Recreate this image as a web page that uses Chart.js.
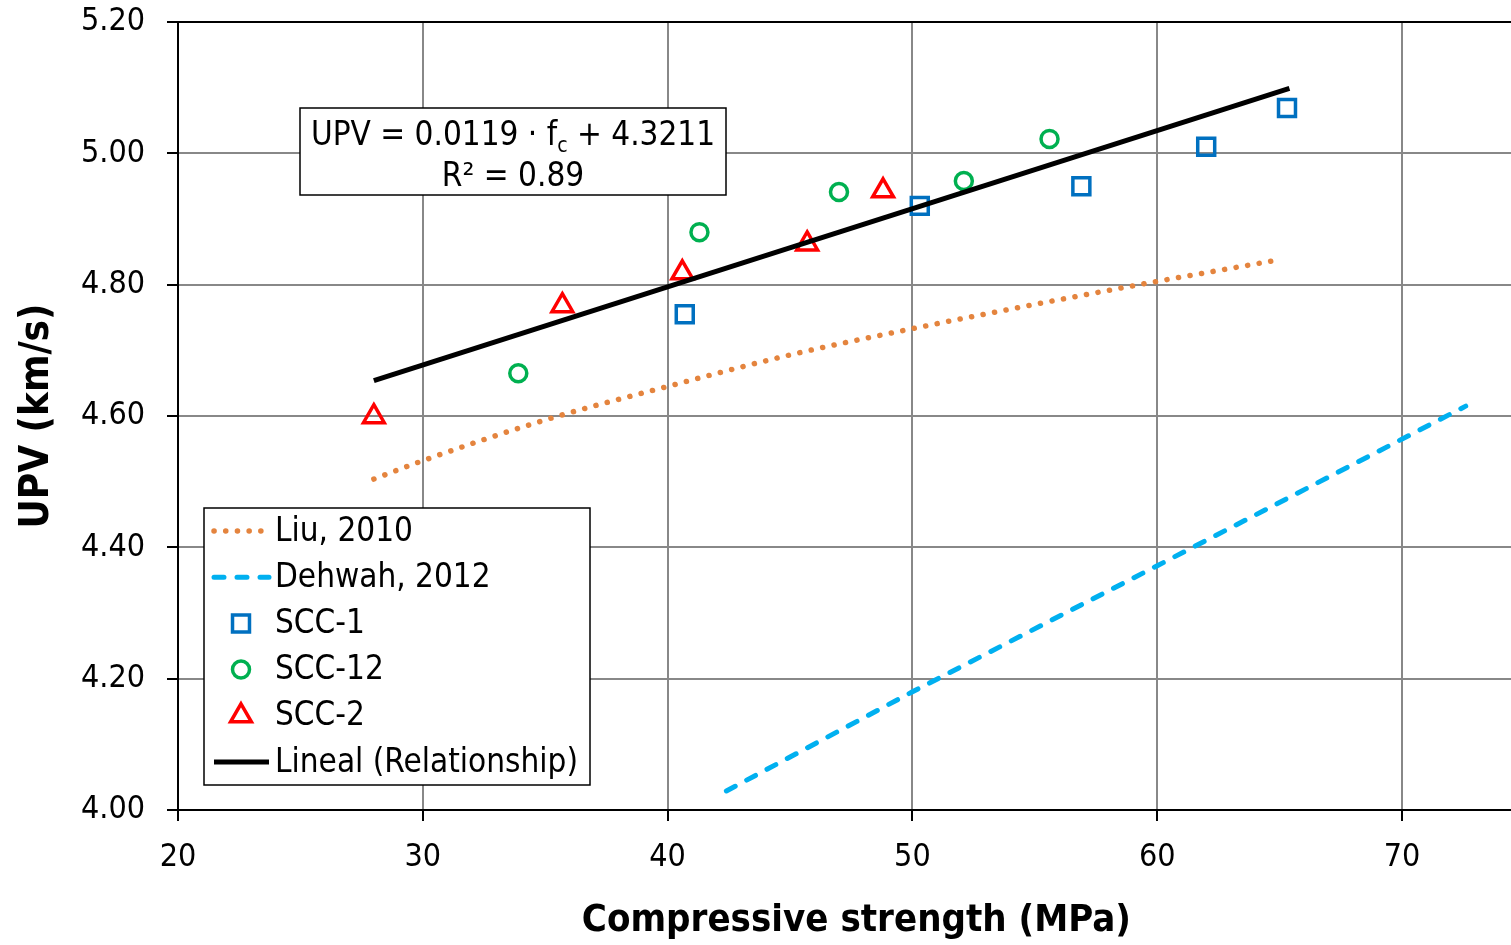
<!DOCTYPE html>
<html>
<head>
<meta charset="utf-8">
<script src="https://cdn.jsdelivr.net/npm/chart.js@4"></script>
<style>
html, body { margin: 0; padding: 0; background: #fff; overflow: hidden; }
canvas { display: block; }
</style>
</head>
<body>
<canvas id="upv_chart" width="1511" height="945"></canvas>
<script>
// tick labels
var xTicks = [20, 30, 40, 50, 60, 70];
var yTicks = [4.00, 4.20, 4.40, 4.60, 4.80, 5.00, 5.20];

// measured points
var scc1X = [40.7, 50.3, 56.9, 62.0, 65.3];
var scc1Y = [4.755, 4.920, 4.950, 5.010, 5.069];
var scc12X = [33.9, 41.3, 47.0, 52.1, 55.6];
var scc12Y = [4.665, 4.880, 4.941, 4.958, 5.022];
var scc2X = [28.0, 35.7, 40.6, 45.7, 48.8];
var scc2Y = [4.599, 4.768, 4.818, 4.862, 4.943];

// literature curves
var liuX = [28, 30, 35, 40, 45, 50, 55, 60, 65];
var liuY = [4.504, 4.532, 4.594, 4.645, 4.693, 4.733, 4.770, 4.805, 4.838];
var dehwahX = [42.4, 50, 60, 72.6];
var dehwahY = [4.029, 4.180, 4.372, 4.615];

// linear fit
var fitX = [28, 65.4];
var fitY = [4.654, 5.099];

function pts(xs, ys) {
  return xs.map(function (x, i) { return { x: x, y: ys[i] }; });
}

var FONT = "'DejaVu Sans Condensed', 'DejaVu Sans', sans-serif";
Chart.defaults.font.family = FONT;
Chart.defaults.color = '#000';

function drawMarker(c, style, r, x, y) {
  c.beginPath();
  if (style === 'rect') {
    var s = Math.SQRT1_2 * r;
    c.rect(x - s, y - s, 2 * s, 2 * s);
  } else if (style === 'circle') {
    c.arc(x, y, r, 0, Math.PI * 2);
  } else if (style === 'triangle') {
    var a = 0;
    c.moveTo(x + Math.sin(a) * r, y - Math.cos(a) * r);
    a += Math.PI * 2 / 3;
    c.lineTo(x + Math.sin(a) * r, y - Math.cos(a) * r);
    a += Math.PI * 2 / 3;
    c.lineTo(x + Math.sin(a) * r, y - Math.cos(a) * r);
    c.closePath();
  }
  c.stroke();
}

// legend box inside the plot
var boxLegend = {
  id: 'boxLegend',
  afterDraw: function (chart) {
    var c = chart.ctx;
    var x0 = 204, y0 = 508, w = 386, h = 277;
    c.save();
    c.fillStyle = '#fff';
    c.fillRect(x0, y0, w, h);
    c.strokeStyle = '#000';
    c.lineWidth = 1.5;
    c.strokeRect(x0, y0, w, h);
    c.font = '33px ' + FONT;
    c.textBaseline = 'middle';
    c.textAlign = 'left';
    chart.data.datasets.forEach(function (ds, i) {
      var yc = y0 + 23 + i * 46.2;
      c.strokeStyle = ds.borderColor;
      c.lineWidth = ds.borderWidth;
      if (ds.showLine) {
        c.setLineDash(ds.borderDash || []);
        c.lineCap = ds.borderCapStyle || 'butt';
        c.beginPath();
        c.moveTo(214, yc);
        c.lineTo(269, yc);
        c.stroke();
        c.setLineDash([]);
        c.lineCap = 'butt';
      } else {
        drawMarker(c, ds.pointStyle, ds.pointRadius, 241, yc);
      }
      c.fillStyle = '#000';
      c.fillText(ds.label, 275, yc + 1);
    });
    c.restore();
  }
};

// equation label
var eqBox = {
  id: 'eqBox',
  afterDraw: function (chart) {
    var c = chart.ctx;
    var x0 = 300, y0 = 108, w = 426, h = 87;
    c.save();
    c.fillStyle = '#fff';
    c.fillRect(x0, y0, w, h);
    c.strokeStyle = '#000';
    c.lineWidth = 1.5;
    c.strokeRect(x0, y0, w, h);
    c.fillStyle = '#000';
    c.textBaseline = 'alphabetic';
    c.textAlign = 'left';
    var big = '33px ' + FONT, small = '21px ' + FONT;
    var p1 = 'UPV = 0.0119 \u00b7 f', p2 = 'c', p3 = ' + 4.3211';
    c.font = big;
    var w1 = c.measureText(p1).width, w3 = c.measureText(p3).width;
    c.font = small;
    var w2 = c.measureText(p2).width;
    var cx = x0 + w / 2;
    var sx = cx - (w1 + w2 + w3) / 2;
    var base1 = 145;
    c.font = big;
    c.fillText(p1, sx, base1);
    c.font = small;
    c.fillText(p2, sx + w1, base1 + 7);
    c.font = big;
    c.fillText(p3, sx + w1 + w2, base1);
    c.textAlign = 'center';
    c.fillText('R\u00b2 = 0.89', cx, 186);
    c.restore();
  }
};

var ctx = document.getElementById('upv_chart').getContext('2d');
var chart = new Chart(ctx, {
  type: 'scatter',
  data: {
    datasets: [{
      label: 'Liu, 2010',
      data: pts(liuX, liuY),
      showLine: true,
      borderColor: '#E4843E',
      borderWidth: 5.5,
      borderDash: [0.1, 11.6],
      borderCapStyle: 'round',
      cubicInterpolationMode: 'monotone',
      pointRadius: 0,
    }, {
      label: 'Dehwah, 2012',
      data: pts(dehwahX, dehwahY),
      showLine: true,
      borderColor: '#00B0F0',
      borderWidth: 5,
      borderDash: [10, 13],
      borderCapStyle: 'round',
      pointRadius: 0,
    }, {
      label: 'SCC-1',
      data: pts(scc1X, scc1Y),
      pointStyle: 'rect',
      pointRadius: 12,
      borderColor: '#0070C0',
      backgroundColor: 'rgba(0,0,0,0)',
      borderWidth: 3.5,
    }, {
      label: 'SCC-12',
      data: pts(scc12X, scc12Y),
      pointStyle: 'circle',
      pointRadius: 8.5,
      borderColor: '#00B050',
      backgroundColor: 'rgba(0,0,0,0)',
      borderWidth: 3.5,
    }, {
      label: 'SCC-2',
      data: pts(scc2X, scc2Y),
      pointStyle: 'triangle',
      pointRadius: 12,
      borderColor: '#FF0000',
      backgroundColor: 'rgba(0,0,0,0)',
      borderWidth: 3.5,
    }, {
      label: 'Lineal (Relationship)',
      data: pts(fitX, fitY),
      showLine: true,
      borderColor: '#000',
      borderWidth: 5,
      pointRadius: 0,
      order: -1,
    }],
  },
  options: {
    responsive: false,
    animation: false,
    layout: { autoPadding: false, padding: { top: 22, right: 0, left: 0, bottom: 0 } },
    plugins: {
      legend: { display: false },
      tooltip: { enabled: false },
    },
    scales: {
      x: {
        type: 'linear',
        min: 20,
        max: 74.45,
        afterBuildTicks: function (s) { s.ticks = xTicks.map(function (v) { return { value: v }; }); },
        afterFit: function (s) {
          s.height = 135;
          s.paddingLeft = 0;
          s.paddingRight = 0;
        },
        ticks: {
          font: { size: 32 },
          padding: 17,
          callback: function (v) { return v; },
        },
        grid: { color: '#888', lineWidth: 2, tickLength: 11, tickColor: '#000', tickWidth: 2 },
        border: { color: '#000', width: 2 },
        title: {
          display: true,
          text: '  Compressive strength (MPa)',
          font: { size: 38, weight: 'bold' },
          padding: { top: 0, bottom: 1 },
        },
      },
      y: {
        min: 4.0,
        max: 5.2,
        afterBuildTicks: function (s) { s.ticks = yTicks.map(function (v) { return { value: v }; }); },
        afterFit: function (s) {
          s.width = 178;
          s.paddingTop = 0;
          s.paddingBottom = 0;
        },
        ticks: {
          font: { size: 32 },
          padding: 22,
          callback: function (v) { return v.toFixed(2); },
        },
        grid: {
          color: function (c) { return c.tick && Math.abs(c.tick.value - 5.2) < 1e-6 ? '#000' : '#888'; },
          lineWidth: 2, tickLength: 11, tickColor: '#000', tickWidth: 2,
        },
        border: { color: '#000', width: 2 },
        title: {
          display: true,
          text: 'UPV (km/s)',
          font: { size: 40, weight: 'bold' },
          padding: { top: 14, bottom: 0 },
        },
      },
    },
  },
  plugins: [eqBox, boxLegend],
});
</script>
</body>
</html>
